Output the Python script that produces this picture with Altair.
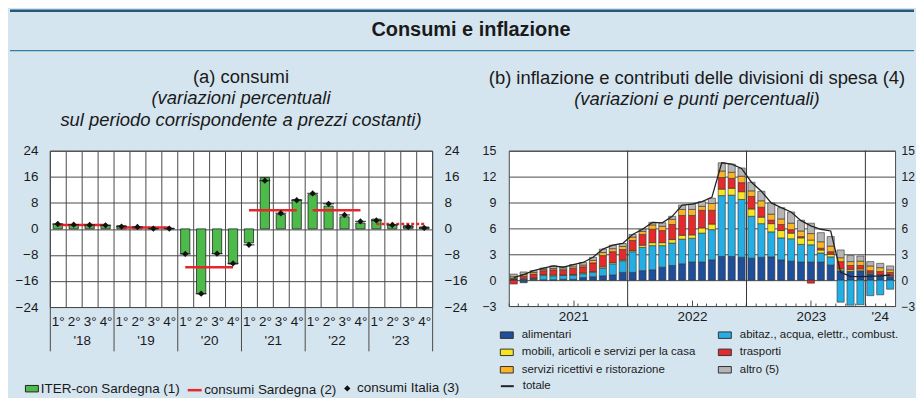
import altair as alt
import pandas as pd

# ---------------- panel (a): consumi ----------------
YEARS_A = ["2018", "2019", "2020", "2021", "2022", "2023"]
YEAR_LABELS_A = ["'18", "'19", "'20", "'21", "'22", "'23"]
QUARTERS = [f"{y}-{q}" for y in YEARS_A for q in (1, 2, 3, 4)]
ITER = [1.5, 1.3, 1.3, 1.1, 1.0, 0.3, 0.2, 0.2,
        -7.6, -19.9, -7.6, -10.8, -4.3, 15.8, 4.4, 9.0,
        10.5, 7.0, 3.7, 1.8, 3.0, 1.3, 1.0, 0.6]
ITALIA = [1.5, 1.3, 1.2, 1.1, 0.7, 0.6, 0.1, 0.1,
          -7.7, -19.9, -7.6, -10.6, -4.9, 14.8, 4.8, 8.8,
          10.9, 7.7, 4.3, 2.3, 2.6, 1.2, 0.6, 0.3]
SARD = [1.2, 0.4, -11.8, 5.7, 5.7, 1.5]

# ---------------- panel (b): inflazione ----------------
MONTHS = [f"{y}-{m:02d}" for y in (2021, 2022, 2023) for m in range(1, 13)] + ["2024-01", "2024-02", "2024-03"]
CATS = ["alimentari", "abitaz., acqua, elettr., combust.",
        "mobili, articoli e servizi per la casa", "trasporti",
        "servizi ricettivi e ristorazione", "altro (5)"]
ALIM = [0.1, -0.3, 0.1, 0.05, 0.05, 0.1, 0.1, 0.3, 0.4, 0.5, 0.6, 0.9,
        0.9, 1.1, 1.2, 1.5, 1.7, 1.9, 2.1, 2.1, 2.35, 2.75, 2.75, 2.65,
        2.55, 2.65, 2.7, 2.35, 2.2, 2.1, 2.1, 2.1, 1.75, 1.1, 1.05, 1.1,
        0.75, 0.55, 0.45]
ABIT = [0.05, 0.1, 0.1, 0.5, 0.45, 0.45, 0.5, 0.45, 0.5, 0.9, 1.3, 1.35,
        2.4, 2.7, 2.8, 2.5, 2.6, 2.85, 2.75, 3.35, 3.5, 7.05, 7.1, 6.7,
        4.85, 3.9, 2.9, 2.55, 2.6, 2.05, 2.0, 1.05, 0.95, -2.55, -2.9, -2.85,
        -1.8, -1.7, -1.05]
MOBI = [0.05, 0.05, 0.05, 0.1, 0.1, 0.05, 0.05, 0.1, 0.1, 0.15, 0.15, 0.1,
        0.15, 0.25, 0.35, 0.35, 0.4, 0.45, 0.4, 0.6, 0.65, 0.75, 0.8, 0.9,
        0.85, 0.75, 0.95, 0.85, 0.65, 0.75, 0.55, 0.35, 0.3, 0.2, 0.2, 0.2,
        0.1, 0.1, 0.1]
TRAS = [-0.45, 0.3, 0.45, 0.45, 0.6, 0.55, 0.7, 0.7, 1.0, 1.3, 1.25, 1.2,
        1.15, 1.25, 1.55, 1.4, 1.75, 2.3, 2.25, 2.05, 1.6, 1.35, 1.15, 1.05,
        1.45, 1.15, 0.4, 0.7, 0.4, 0.15, -0.35, 0.2, 0.3, 0.85, 0.45, 0.4,
        0.25, 0.35, 0.35]
SERV = [0.2, 0.2, 0.2, 0.15, 0.15, 0.15, 0.2, 0.2, 0.3, 0.35, 0.35, 0.35,
        0.4, 0.35, 0.5, 0.5, 0.6, 0.7, 0.7, 0.45, 0.8, 0.75, 0.7, 0.75,
        0.65, 0.75, 0.7, 0.65, 0.75, 0.65, 0.75, 0.75, 0.65, 0.45, 0.45, 0.5,
        0.55, 0.45, 0.3]
ALTRO = [0.3, 0.3, 0.2, 0.15, 0.3, 0.25, 0.25, 0.3, 0.35, 0.4, 0.4, 0.35,
         0.3, 0.25, 0.3, 0.4, 0.35, 0.5, 0.6, 0.55, 0.6, 0.95, 0.95, 0.95,
         1.0, 1.1, 1.3, 1.3, 1.3, 1.25, 1.2, 1.05, 1.1, 0.9, 0.7, 0.6,
         0.5, 0.5, 0.45]
TOTALE = [0.3, 0.65, 1.1, 1.4, 1.65, 1.5, 1.8, 2.05, 2.65, 3.6, 4.05, 4.25,
          5.3, 5.9, 6.7, 6.65, 7.4, 8.7, 8.8, 9.1, 9.6, 13.6, 13.45, 12.95,
          11.35, 10.3, 8.95, 8.4, 7.9, 6.9, 6.3, 5.9, 5.7, 0.9, 0.45, 0.4,
          0.45, 0.5, 0.6]
YEAR_STARTS_B = ["2022-01", "2023-01", "2024-01"]
MIDYEAR_B = ["2021-07", "2022-07", "2023-07"]
TITLE = ["Consumi e inflazione"]

# ---------------- style ----------------
FONT = "Liberation Sans"
BG = "#d5e5f0"
GRID = "#4a4a4a"
TXT = "#1a1a1a"
GREEN = "#4dbb4a"
RED = "#e5262b"
COLORS = ["#1f4e9a", "#25aee3", "#f6e61f", "#e52a2c", "#fbb428", "#b5b5b5"]
RECT = "M-1,-0.5H1V0.5H-1Z"
LEFT_PAD = 40

# ---------------- panel (a) build ----------------
df_a = pd.DataFrame({"q": QUARTERS, "iter": ITER, "italia": ITALIA})
df_a["s1"] = "ITER-con Sardegna (1)"
df_a["s3"] = "consumi Italia (3)"
df_r = pd.DataFrame({"anno": YEARS_A,
                     "q1": [y + "-1" for y in YEARS_A],
                     "q4": [y + "-4" for y in YEARS_A],
                     "val": SARD})
df_r["s2"] = "consumi Sardegna (2)"
df_r_solid = df_r[df_r["anno"] != "2023"]
df_r_dot = df_r[df_r["anno"] == "2023"]
df_ya = pd.DataFrame({"anno": YEAR_LABELS_A})

qscale = alt.Scale(domain=QUARTERS, paddingInner=0, paddingOuter=0)
yscale_a = alt.Scale(domain=[-24, 24], nice=False, zero=False)
ticks_a = [-24, -16, -8, 0, 8, 16, 24]

bars_a = alt.Chart(df_a).mark_bar(
    width=alt.RelativeBandSize(0.58), stroke="#262626", strokeWidth=0.8
).encode(
    x=alt.X("q:N", scale=qscale, axis=alt.Axis(
        orient="bottom", title=None, tickBand="extent", grid=True, ticks=False,
        domain=False, labelAngle=0, labelPadding=8, labelFontSize=13.5,
        labelOverlap=False,
        labelExpr="indexof(datum.label, '-') > 0 ? split(datum.label, '-')[1] + '°' : ''")),
    y=alt.Y("iter:Q", scale=yscale_a, axis=alt.Axis(
        orient="left", values=ticks_a, grid=True, ticks=False, domain=False,
        labelPadding=12, labelFontSize=13.5, title="\u2002", titleAngle=0,
        titleX=-LEFT_PAD, titleY=0, titleAlign="left", titleBaseline="top")),
    fill=alt.Fill("s1:N", scale=alt.Scale(domain=["ITER-con Sardegna (1)"], range=[GREEN]),
                  legend=alt.Legend(title=None, orient="none", legendX=-25, legendY=232,
                                    symbolType=RECT, symbolSize=169, symbolStrokeColor="#222",
                                    symbolStrokeWidth=1, labelFontSize=13.5, labelOffset=2,
                                    labelLimit=400)),
)

rules_a = alt.Chart(df_r_solid).mark_rule(strokeWidth=2.5).encode(
    x=alt.X("q1:N", scale=qscale, axis=None),
    x2="q4:N",
    y=alt.Y("val:Q", scale=yscale_a, axis=None),
    stroke=alt.Stroke("s2:N", scale=alt.Scale(domain=["consumi Sardegna (2)"], range=[RED]),
                      legend=alt.Legend(title=None, orient="none", legendX=137, legendY=232,
                                        symbolType="stroke", symbolSize=196, symbolStrokeWidth=2.5,
                                        labelFontSize=13.5, labelOffset=1, labelLimit=400)),
)

rules_a_dot = alt.Chart(df_r_dot).mark_rule(strokeWidth=2.5, strokeDash=[3, 2], color=RED).encode(
    x=alt.X("q1:N", scale=qscale, axis=None),
    x2="q4:N",
    y=alt.Y("val:Q", scale=yscale_a, axis=None),
)

dash_a = alt.Chart(df_a).mark_tick(color="#111111", size=11, thickness=1.3).encode(
    x=alt.X("q:N", scale=qscale, axis=None),
    y=alt.Y("italia:Q", scale=yscale_a, axis=None),
)

pts_a = alt.Chart(df_a).mark_point(filled=True, color="#111111", size=40, opacity=1).encode(
    x=alt.X("q:N", scale=qscale, axis=None),
    y=alt.Y("italia:Q", scale=yscale_a, axis=alt.Axis(
        orient="right", values=ticks_a, grid=False, ticks=False, domain=False,
        labelPadding=12, labelFontSize=13.5, title=None)),
    shape=alt.Shape("s3:N", scale=alt.Scale(domain=["consumi Italia (3)"], range=["diamond"]),
                    legend=alt.Legend(title=None, orient="none", legendX=292, legendY=232,
                                      symbolSize=40, labelFontSize=13.5, labelOffset=3,
                                      labelLimit=400)),
)

years_a = alt.Chart(df_ya).mark_point(opacity=0).encode(
    x=alt.X("anno:N", scale=alt.Scale(domain=YEAR_LABELS_A, paddingInner=0, paddingOuter=0),
            axis=alt.Axis(orient="bottom", title=None, tickBand="extent", ticks=True,
                          tickSize=44, domain=False, grid=False, labelPadding=-17,
                          labelAngle=0, labelFontSize=13.5)),
)

panel_a = alt.layer(bars_a, rules_a, rules_a_dot, dash_a, pts_a, years_a).resolve_scale(
    x="independent", y="independent"
).properties(
    width=384, height=157,
    title=alt.Title("(a) consumi",
                    subtitle=["(variazioni percentuali",
                              "sul periodo corrispondente a prezzi costanti)"],
                    fontSize=18.5, fontWeight="normal", subtitleFontSize=18.5,
                    subtitleFontStyle="italic", subtitlePadding=2.5, subtitleLineHeight=22.5,
                    anchor="middle", frame="group", offset=14),
)

# ---------------- panel (b) build ----------------
series_b = [ALIM, ABIT, MOBI, TRAS, SERV, ALTRO]
rows = []
for k, (cat, vals) in enumerate(zip(CATS, series_b)):
    for m, v in zip(MONTHS, vals):
        rows.append({"mese": m, "voce": cat, "val": v, "ord": k})
df_b = pd.DataFrame(rows)
df_tot = pd.DataFrame({"mese": MONTHS, "tot": TOTALE})
df_tot["serie"] = "totale"
df_yb = pd.DataFrame({"mese": YEAR_STARTS_B})

# legend fills column by column: order the domain so rows read as in the reference
leg_order = [0, 2, 4, 1, 3, 5]
leg_domain = [CATS[i] for i in leg_order]
leg_range = [COLORS[i] for i in leg_order]

mscale = alt.Scale(domain=MONTHS, paddingInner=0, paddingOuter=0)
yscale_b = alt.Scale(domain=[-3, 15], nice=False, zero=False)
ticks_b = [-3, 0, 3, 6, 9, 12, 15]

bars_b = alt.Chart(df_b).mark_bar(
    width=alt.RelativeBandSize(0.72), stroke="#333333", strokeWidth=0.6
).encode(
    x=alt.X("mese:N", scale=mscale, axis=alt.Axis(
        orient="bottom", title=None, values=MONTHS, bandPosition=0, offset=-3,
        tickSize=3, ticks=True, labels=False, domain=False, grid=False)),
    y=alt.Y("val:Q", stack="zero", scale=yscale_b, axis=alt.Axis(
        orient="left", values=ticks_b, grid=True, ticks=False, domain=False,
        labelPadding=13, labelFontSize=12.5, title=None)),
    color=alt.Color("voce:N", scale=alt.Scale(domain=leg_domain, range=leg_range),
                    legend=alt.Legend(title=None, orient="none", legendX=-9, legendY=178,
                                      columns=2, columnPadding=20, rowPadding=4.5,
                                      symbolType=RECT, symbolSize=169,
                                      symbolStrokeColor="#333", symbolStrokeWidth=1,
                                      labelFontSize=11.5, labelOffset=8, labelLimit=400)),
    order=alt.Order("ord:Q"),
)

rules_b = alt.Chart(df_yb).mark_rule(color="#333333", strokeWidth=1).encode(
    x=alt.X("mese:N", scale=mscale, bandPosition=0, axis=alt.Axis(
        orient="bottom", title=None, values=["2024-02"], bandPosition=0.5,
        ticks=False, domain=False, grid=False, labelPadding=4, labelFontSize=13.5,
        labelAngle=0, labelExpr="\"'\" + substring(datum.value, 2, 4)")),
)

line_b = alt.Chart(df_tot).mark_line(strokeWidth=1.3).encode(
    x=alt.X("mese:N", scale=mscale, axis=alt.Axis(
        orient="bottom", title=None, values=MIDYEAR_B, bandPosition=0, offset=-6,
        tickSize=6, ticks=True, domain=False, grid=False, labelPadding=4,
        labelFontSize=13.5, labelAngle=0, labelExpr="substring(datum.value, 0, 4)")),
    y=alt.Y("tot:Q", scale=yscale_b, axis=alt.Axis(
        orient="right", values=ticks_b, grid=False, ticks=False, domain=False,
        labelPadding=6, labelFontSize=12, title=None)),
    stroke=alt.Stroke("serie:N", scale=alt.Scale(domain=["totale"], range=["#222222"]),
                      legend=alt.Legend(title=None, orient="none", legendX=-9, legendY=229,
                                        symbolType="stroke", symbolSize=169,
                                        symbolStrokeWidth=2, labelFontSize=11.5,
                                        labelOffset=8)),
)

panel_b = alt.layer(bars_b, rules_b, line_b).resolve_scale(
    x="independent", y="independent"
).properties(
    width=388, height=156,
    title=alt.Title("(b) inflazione e contributi delle divisioni di spesa (4)",
                    subtitle=["(variazioni e punti percentuali)"],
                    fontSize=18.5, fontWeight="normal", subtitleFontSize=18.5,
                    subtitleFontStyle="italic", subtitlePadding=2.5, subtitleLineHeight=22.5,
                    anchor="middle", frame="group", offset=36.5, dx=-5),
)

row = alt.hconcat(panel_a, panel_b, spacing=13).resolve_scale(
    stroke="independent", fill="independent", shape="independent", color="independent"
)

# ---------------- banner (decoration: two rules and the heading) ----------------
BANNER_W = 868
df_title = pd.DataFrame({"t": TITLE})
banner = alt.layer(
    alt.Chart(df_title).mark_rule(color="#215a78", strokeWidth=2.5).encode(
        x=alt.value(-LEFT_PAD), x2=alt.value(BANNER_W), y=alt.value(0)),
    alt.Chart(df_title).mark_rule(color="#2f7fa6", strokeWidth=1.2).encode(
        x=alt.value(-LEFT_PAD), x2=alt.value(BANNER_W), y=alt.value(40)),
    alt.Chart(df_title).mark_text(
        fontSize=20, fontWeight="bold", color=TXT, font=FONT, dx=-11, dy=-1).encode(text="t:N"),
).properties(
    width=BANNER_W, height=40,
    view=alt.ViewConfig(stroke="transparent", fill="transparent"),
)

chart = alt.vconcat(banner, row, spacing=14.5).configure(
    background=BG, padding=0, font=FONT
).configure_view(
    fill="white", stroke=GRID, strokeWidth=1
).configure_axis(
    labelFont=FONT, labelColor=TXT, gridColor=GRID, gridWidth=1, tickColor=GRID
).configure_legend(
    labelFont=FONT, labelColor=TXT, padding=0
).configure_title(
    font=FONT, subtitleFont=FONT, color=TXT, subtitleColor=TXT
)

chart.save("out.html", embed_options={"renderer": "svg", "actions": False})
